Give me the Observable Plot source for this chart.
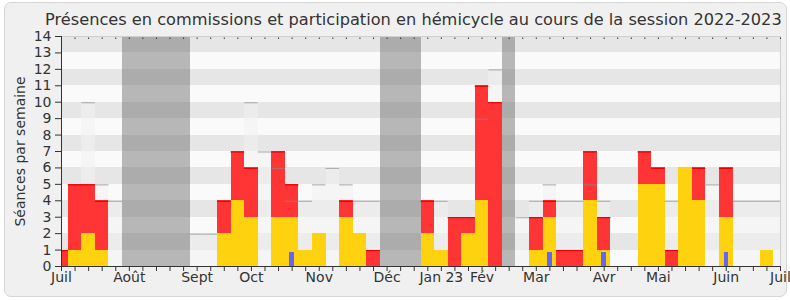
<!DOCTYPE html>
<html><head><meta charset="utf-8">
<script src="https://cdn.jsdelivr.net/npm/d3@7"></script>
<script src="https://cdn.jsdelivr.net/npm/@observablehq/plot@0.6"></script>
<style>
body{margin:0;background:#fff;}
#wrap{position:relative;width:790px;height:300px;overflow:hidden;}
#box{position:absolute;left:4px;top:2px;width:781px;height:293px;border:1px solid #d6d6d6;border-radius:7px;background:#f0f0f0;}
#title{position:absolute;left:45px;top:10px;white-space:nowrap;font:16.2px "DejaVu Sans";color:#333;}
#chart{position:absolute;left:0;top:0;}
</style></head>
<body><div id="wrap"><div id="box"></div><div id="title">Présences en commissions et participation en hémicycle au cours de la session 2022-2023</div><div id="chart"></div></div>
<script>
const weeks = d3.range(54);
const commission = [0,1,2,1,0, 0,0,0,0,0, 0,0,2,4,3, 0,3,3,1,2, 0,3,2,0,0, 0,0,2,1,0, 2,4,0,0,0, 1,3,0,0,4, 1,0,0,5,5, 0,6,4,0,3, 0,0,1,0];
const hemicycle  = [1,4,3,3,0, 0,0,0,0,0, 0,0,2,3,3, 0,4,2,0,0, 0,1,0,1,0, 0,0,2,0,3, 1,7,10,0,0, 2,1,1,1,3, 2,0,0,2,1, 1,0,2,0,3, 0,0,0,0];
const median     = [0,0,10,5,4, 0,0,0,0,0, 2,2,0,0,10, 7,6,4,4,5, 6,5,4,4,0, 0,0,0,4,0, 0,9,12,0,3, 4,5,4,4,5, 4,0,0,0,0, 4,0,0,5,0, 4,4,4,4];
const questionWeeks = [17,36,40,49];
const vacationWeeks = [5,6,7,8,9,24,25,26,33];
const monthLabels = ["Juil","Août","Sept","Oct","Nov","Déc","Jan 23","Fév","Mar","Avr","Mai","Juin","Juil"];
const monthWeeks  = [0,5,10,14,19,24,28,31,35,40,44,49,53];
const yTicks = d3.range(15);

const rows = weeks.map(i => ({week: i, commission: commission[i], hemicycle: hemicycle[i], median: median[i]}));
const bands = yTicks.filter(v => v % 2 === 1 && v < 14);
const monthMap = new Map(monthWeeks.map((w, i) => [w, monthLabels[i]]));
const x1 = d => d.week - 0.5, x2 = d => d.week + 0.5;
const crisp = {shapeRendering: "crispEdges"};

const chart = Plot.plot({
  width: 790, height: 300,
  marginLeft: 61, marginRight: 10, marginTop: 36, marginBottom: 34,
  style: {fontFamily: "DejaVu Sans", fontSize: "14px", color: "#333", background: "transparent"},
  x: {domain: [0, 53]},
  y: {domain: [0, 14]},
  marks: [
    Plot.frame({fill: "#fafafa"}),
    Plot.rect(bands, {y1: d => d, y2: d => d + 1, fill: "#e6e6e6", ...crisp}),
    Plot.rect(vacationWeeks, {x1: d => d - 0.5, x2: d => d + 0.5, fill: "#666", fillOpacity: 0.45, ...crisp}),
    Plot.rect(rows.filter(d => d.median > 0), {x1, x2, y1: 0, y2: "median", fill: "#f0f0f0", fillOpacity: 0.55, clip: true, ...crisp}),
    Plot.rect(rows.filter(d => d.hemicycle > 0), {x1, x2, y1: "commission", y2: d => d.commission + d.hemicycle, fill: "#ff3535", clip: true, ...crisp}),
    Plot.ruleY(rows.filter(d => d.hemicycle > 0), {x1, x2, y: d => d.commission + d.hemicycle, dy: 0.5, stroke: "#e80000", strokeWidth: 1.2, clip: true}),
    Plot.rect(rows.filter(d => d.commission > 0), {x1, x2, y1: 0, y2: "commission", fill: "#ffd210", clip: true, ...crisp}),
    Plot.rect(questionWeeks, {x1: d => d - 0.5, x2: d => d + 0.5, y1: 0, y2: 1, insetLeft: 4.6, insetRight: 4.6, insetTop: 2, fill: "#6464ff", ...crisp}),
    Plot.ruleY(rows.filter(d => d.median > 0), {x1, x2, y: "median", dy: 0.5, stroke: "#888", strokeOpacity: 0.6, strokeWidth: 1.2, clip: true}),
    Plot.frame({stroke: "#cfcfcf"}),
    Plot.axisY({ticks: yTicks, tickSize: 6, tickPadding: 4, label: "Séances par semaine", labelAnchor: "center", labelOffset: 46, labelArrow: "none"}),
    Plot.axisX({ticks: weeks, tickSize: 5, tickFormat: () => "", label: null}),
    Plot.axisX({ticks: monthWeeks, tickSize: 0, tickPadding: 6, tickFormat: d => monthMap.get(d), label: null}),
    Plot.axisX({anchor: "top", ticks: weeks, tickSize: 1.5, dy: 2, tickFormat: () => "", label: null}),
    Plot.frame({anchor: "left", stroke: "#333"}),
    Plot.frame({anchor: "bottom", stroke: "#333"})
  ]
});
document.getElementById("chart").appendChild(chart);
</script>
</body></html>
